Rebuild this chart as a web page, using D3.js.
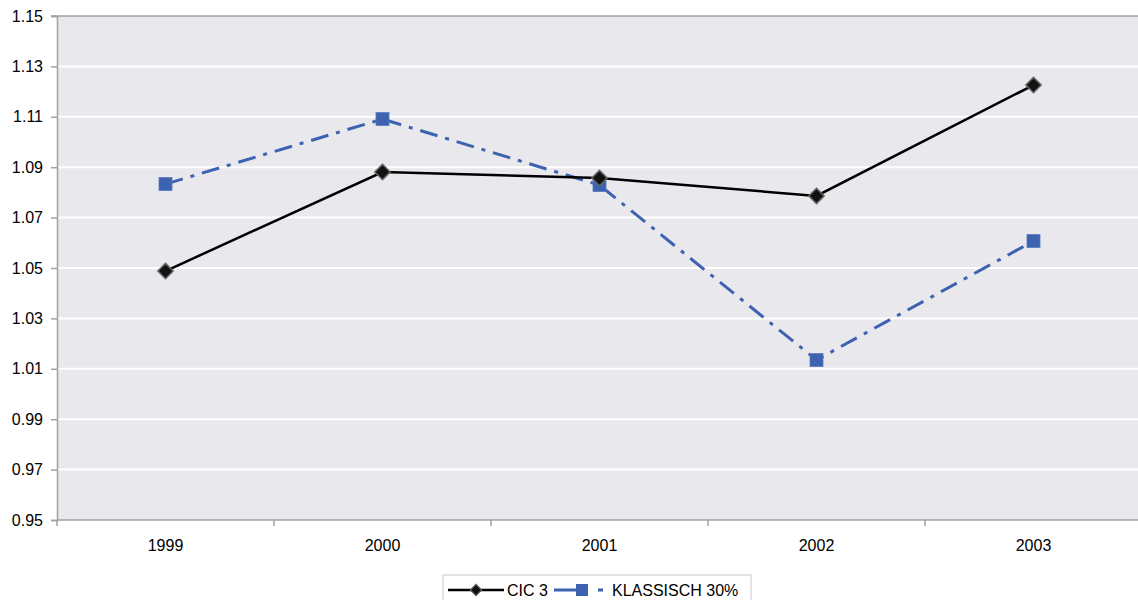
<!DOCTYPE html>
<html>
<head>
<meta charset="utf-8">
<script src="https://cdn.jsdelivr.net/npm/d3@7"></script>
<style>
  body { margin: 0; background: #fff; }
  svg { display: block; font-family: "Liberation Sans", Arial, sans-serif; }
</style>
</head>
<body>
<div id="chart"></div>
<script>
// Chart data
const years = ["1999", "2000", "2001", "2002", "2003"];
const cic3 = [1.0488, 1.0881, 1.0857, 1.0786, 1.1226];
const klassisch = [1.0833, 1.1091, 1.0829, 1.0135, 1.0607];
const yTicks = [0.95, 0.97, 0.99, 1.01, 1.03, 1.05, 1.07, 1.09, 1.11, 1.13, 1.15];

const width = 1138, height = 600;
const margin = { top: 16, right: -4, bottom: 80, left: 57 };
const FONT = "Liberation Sans, Arial, sans-serif";

const svg = d3.select("#chart").append("svg")
  .attr("width", width)
  .attr("height", height);

const x = d3.scaleBand()
  .domain(years)
  .range([margin.left, width - margin.right])
  .padding(0);

const y = d3.scaleLinear()
  .domain([0.95, 1.15])
  .range([height - margin.bottom, margin.top]);

// Plot background
svg.append("rect")
  .attr("x", margin.left).attr("y", margin.top)
  .attr("width", width - margin.right - margin.left)
  .attr("height", y(0.95) - margin.top)
  .attr("fill", "#e8e8ed");

// Gridlines
svg.append("g")
  .selectAll("line")
  .data(yTicks.slice(1, -1))
  .join("line")
  .attr("x1", margin.left).attr("x2", width)
  .attr("y1", d => y(d)).attr("y2", d => y(d))
  .attr("stroke", "#fff")
  .attr("stroke-width", 2);

// Top border
svg.append("line")
  .attr("x1", margin.left - 6).attr("x2", width)
  .attr("y1", y(1.15)).attr("y2", y(1.15))
  .attr("stroke", "#a0a0a0").attr("stroke-width", 1.5);

// Y axis
const yAxis = svg.append("g")
  .attr("transform", `translate(${margin.left},0)`)
  .call(d3.axisLeft(y).tickValues(yTicks).tickFormat(d3.format(".2f")).tickSize(6).tickPadding(8));
yAxis.select(".domain").attr("stroke", "#a0a0a0").attr("stroke-width", 1.5);
yAxis.selectAll(".tick line").attr("stroke", "#a0a0a0").attr("stroke-width", 1.5);
yAxis.selectAll("text").attr("font-size", 16).attr("fill", "#000")
  .style("font-family", FONT);

// X axis
const xAxis = svg.append("g")
  .attr("transform", `translate(0,${y(0.95)})`)
  .call(d3.axisBottom(x).tickSize(0).tickPadding(20));
xAxis.select(".domain").remove();
xAxis.selectAll("text").attr("font-size", 16).attr("fill", "#000")
  .style("font-family", FONT);

svg.append("line")
  .attr("x1", margin.left).attr("x2", width)
  .attr("y1", y(0.95)).attr("y2", y(0.95))
  .attr("stroke", "#a0a0a0").attr("stroke-width", 1.5);

// Category separator ticks
svg.append("g")
  .selectAll("line")
  .data(years)
  .join("line")
  .attr("x1", d => x(d)).attr("x2", d => x(d))
  .attr("y1", y(0.95)).attr("y2", y(0.95) + 6)
  .attr("stroke", "#a0a0a0").attr("stroke-width", 1.5);

const cx = d => x(d) + x.bandwidth() / 2;
const BLUE = "#3c62b0";

const line = d3.line()
  .x((d, i) => cx(years[i]))
  .y(d => y(d));

// KLASSISCH 30% series
svg.append("path")
  .datum(klassisch)
  .attr("d", line)
  .attr("fill", "none")
  .attr("stroke", BLUE)
  .attr("stroke-width", 3)
  .attr("stroke-dasharray", "18,8,4,8");

svg.append("g")
  .selectAll("rect")
  .data(klassisch)
  .join("rect")
  .attr("x", (d, i) => cx(years[i]) - 6.5)
  .attr("y", d => y(d) - 6.5)
  .attr("width", 13).attr("height", 13)
  .attr("fill", BLUE)
  .attr("stroke", "#5a7cc0")
  .attr("stroke-width", 0.8);

// CIC 3 series
svg.append("path")
  .datum(cic3)
  .attr("d", line)
  .attr("fill", "none")
  .attr("stroke", "#000")
  .attr("stroke-width", 2.5);

const diamond = d3.symbol().type(d3.symbolDiamond2).size(150);
svg.append("g")
  .selectAll("path")
  .data(cic3)
  .join("path")
  .attr("d", diamond)
  .attr("transform", (d, i) => `translate(${cx(years[i])},${y(d)})`)
  .attr("fill", "#111")
  .attr("stroke", "#666")
  .attr("stroke-width", 1.5);

// Legend
const legend = svg.append("g").attr("transform", "translate(443,575)");
legend.append("rect")
  .attr("width", 308).attr("height", 26)
  .attr("fill", "#fff")
  .attr("stroke", "#c8c8c8");

legend.append("line")
  .attr("x1", 5).attr("x2", 61).attr("y1", 15).attr("y2", 15)
  .attr("stroke", "#000").attr("stroke-width", 2.5);
legend.append("path")
  .attr("d", diamond)
  .attr("transform", "translate(33,15) scale(0.75)")
  .attr("fill", "#111").attr("stroke", "#666").attr("stroke-width", 1.5);
legend.append("text")
  .attr("x", 64).attr("y", 21)
  .attr("font-size", 16)
  .text("CIC 3");

legend.append("line")
  .attr("x1", 111).attr("x2", 161).attr("y1", 15).attr("y2", 15)
  .attr("stroke", BLUE).attr("stroke-width", 3)
  .attr("stroke-dasharray", "33,11,5,100");
legend.append("rect")
  .attr("x", 133).attr("y", 9).attr("width", 12).attr("height", 12)
  .attr("fill", BLUE);
legend.append("text")
  .attr("x", 169).attr("y", 21)
  .attr("font-size", 16)
  .text("KLASSISCH 30%");
</script>
</body>
</html>
